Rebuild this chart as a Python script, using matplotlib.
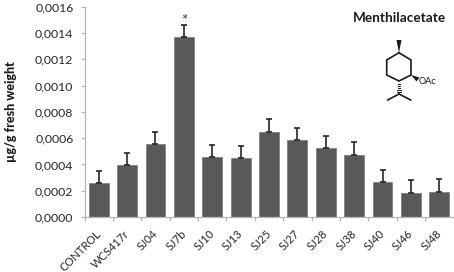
import matplotlib
matplotlib.use('Agg')
import matplotlib.pyplot as plt
import numpy as np

categories = ['CONTROL', 'WCS417r', 'SJ04', 'SJ7b', 'SJ10', 'SJ13', 'SJ25',
              'SJ27', 'SJ28', 'SJ38', 'SJ40', 'SJ46', 'SJ48']
values = [0.000256, 0.000398, 0.000558, 0.001366, 0.000456, 0.000446, 0.000644,
          0.000585, 0.000522, 0.000474, 0.000266, 0.000185, 0.000193]
errors = [0.000091, 0.000091, 0.000091, 0.000094, 0.000094, 0.000096, 0.000099,
          0.000094, 0.000096, 0.000096, 0.000091, 0.000096, 0.000096]
y_ticks = [0.0, 0.0002, 0.0004, 0.0006, 0.0008, 0.0010, 0.0012, 0.0014, 0.0016]

W, H = 454, 272
plt.rcParams['font.family'] = ['Lato', 'DejaVu Sans']

fig = plt.figure(figsize=(W / 100, H / 100), dpi=100)
ax = fig.add_axes([84.5 / W, 1 - 217 / H, 369 / W, 210.3 / H])

x = np.arange(len(categories))
ax.bar(x, values, width=0.7, color='#595959', edgecolor='#7f7f7f', linewidth=0.6,
       yerr=[np.zeros(len(errors)), errors], capsize=2.3,
       error_kw={'ecolor': '#262626', 'elinewidth': 1.2, 'capthick': 1.2})

ax.set_xlim(-0.5, len(categories) - 0.5)
ax.set_ylim(0, 0.0016)
ax.set_yticks(y_ticks)
ax.set_yticklabels([f'{v:.4f}'.replace('.', ',') for v in y_ticks], fontsize=8.8, color='#262626')
ax.set_xticks(x - 0.5, minor=False)
ax.set_xticklabels([])
ax.tick_params(axis='x', length=3, width=0.9, color='#b5b5b5', direction='out')
ax.tick_params(axis='y', length=3, width=0.9, color='#b5b5b5', direction='out', pad=5)
for s in ['top', 'right']:
    ax.spines[s].set_visible(False)
for s in ['left', 'bottom']:
    ax.spines[s].set_color('#b5b5b5')
    ax.spines[s].set_linewidth(0.9)

for i, name in enumerate(categories):
    ax.annotate(name, (i, 0), xytext=(-2.5, -8), textcoords='offset points', rotation=45,
                ha='right', va='top', rotation_mode='anchor', fontsize=8, color='#262626')

ax.text(3, values[3] + errors[3] - 0.00002, '*', ha='center', va='bottom', fontsize=11, color='#333333')
ax.set_ylabel('µg/g fresh weight', fontsize=9, fontweight='black', color='#1a1a1a', labelpad=13)

# overlay in pixels for the title and the molecule
ov = fig.add_axes([0, 0, 1, 1])
ov.set_xlim(0, W)
ov.set_ylim(H, 0)
ov.axis('off')
ov.patch.set_alpha(0)
ov.text(399, 18.5, 'Menthilacetate', ha='center', va='center', fontsize=9.8,
        fontweight='bold', color='#1a1a1a')

ring_x = [399, 411, 411, 399, 386.7, 386.7, 399]
ring_y = [52.7, 60, 75, 81, 75, 60, 52.7]
ov.plot(ring_x, ring_y, color='#1a1a1a', lw=1.2, solid_joinstyle='miter')
ov.fill([399, 396.5, 401.5], [52.7, 40, 40], color='#1a1a1a', lw=0)
ov.fill([411, 419.5, 416.5], [75, 77.5, 81.5], color='#1a1a1a', lw=0)
ov.plot([399, 387.7], [94, 100], color='#1a1a1a', lw=1.2)
ov.plot([399, 410.7], [94, 100], color='#1a1a1a', lw=1.2)
for yy, half in zip([83.5, 85.5, 87.5, 89.5, 91.5], [0.6, 1.0, 1.4, 1.9, 2.4]):
    ov.plot([399 - half, 399 + half], [yy, yy], color='#1a1a1a', lw=0.7)
ov.text(418.5, 81.5, 'OAc', ha='left', va='center', fontsize=6.6, color='#1a1a1a')

fig.savefig('out.png', dpi=100)
